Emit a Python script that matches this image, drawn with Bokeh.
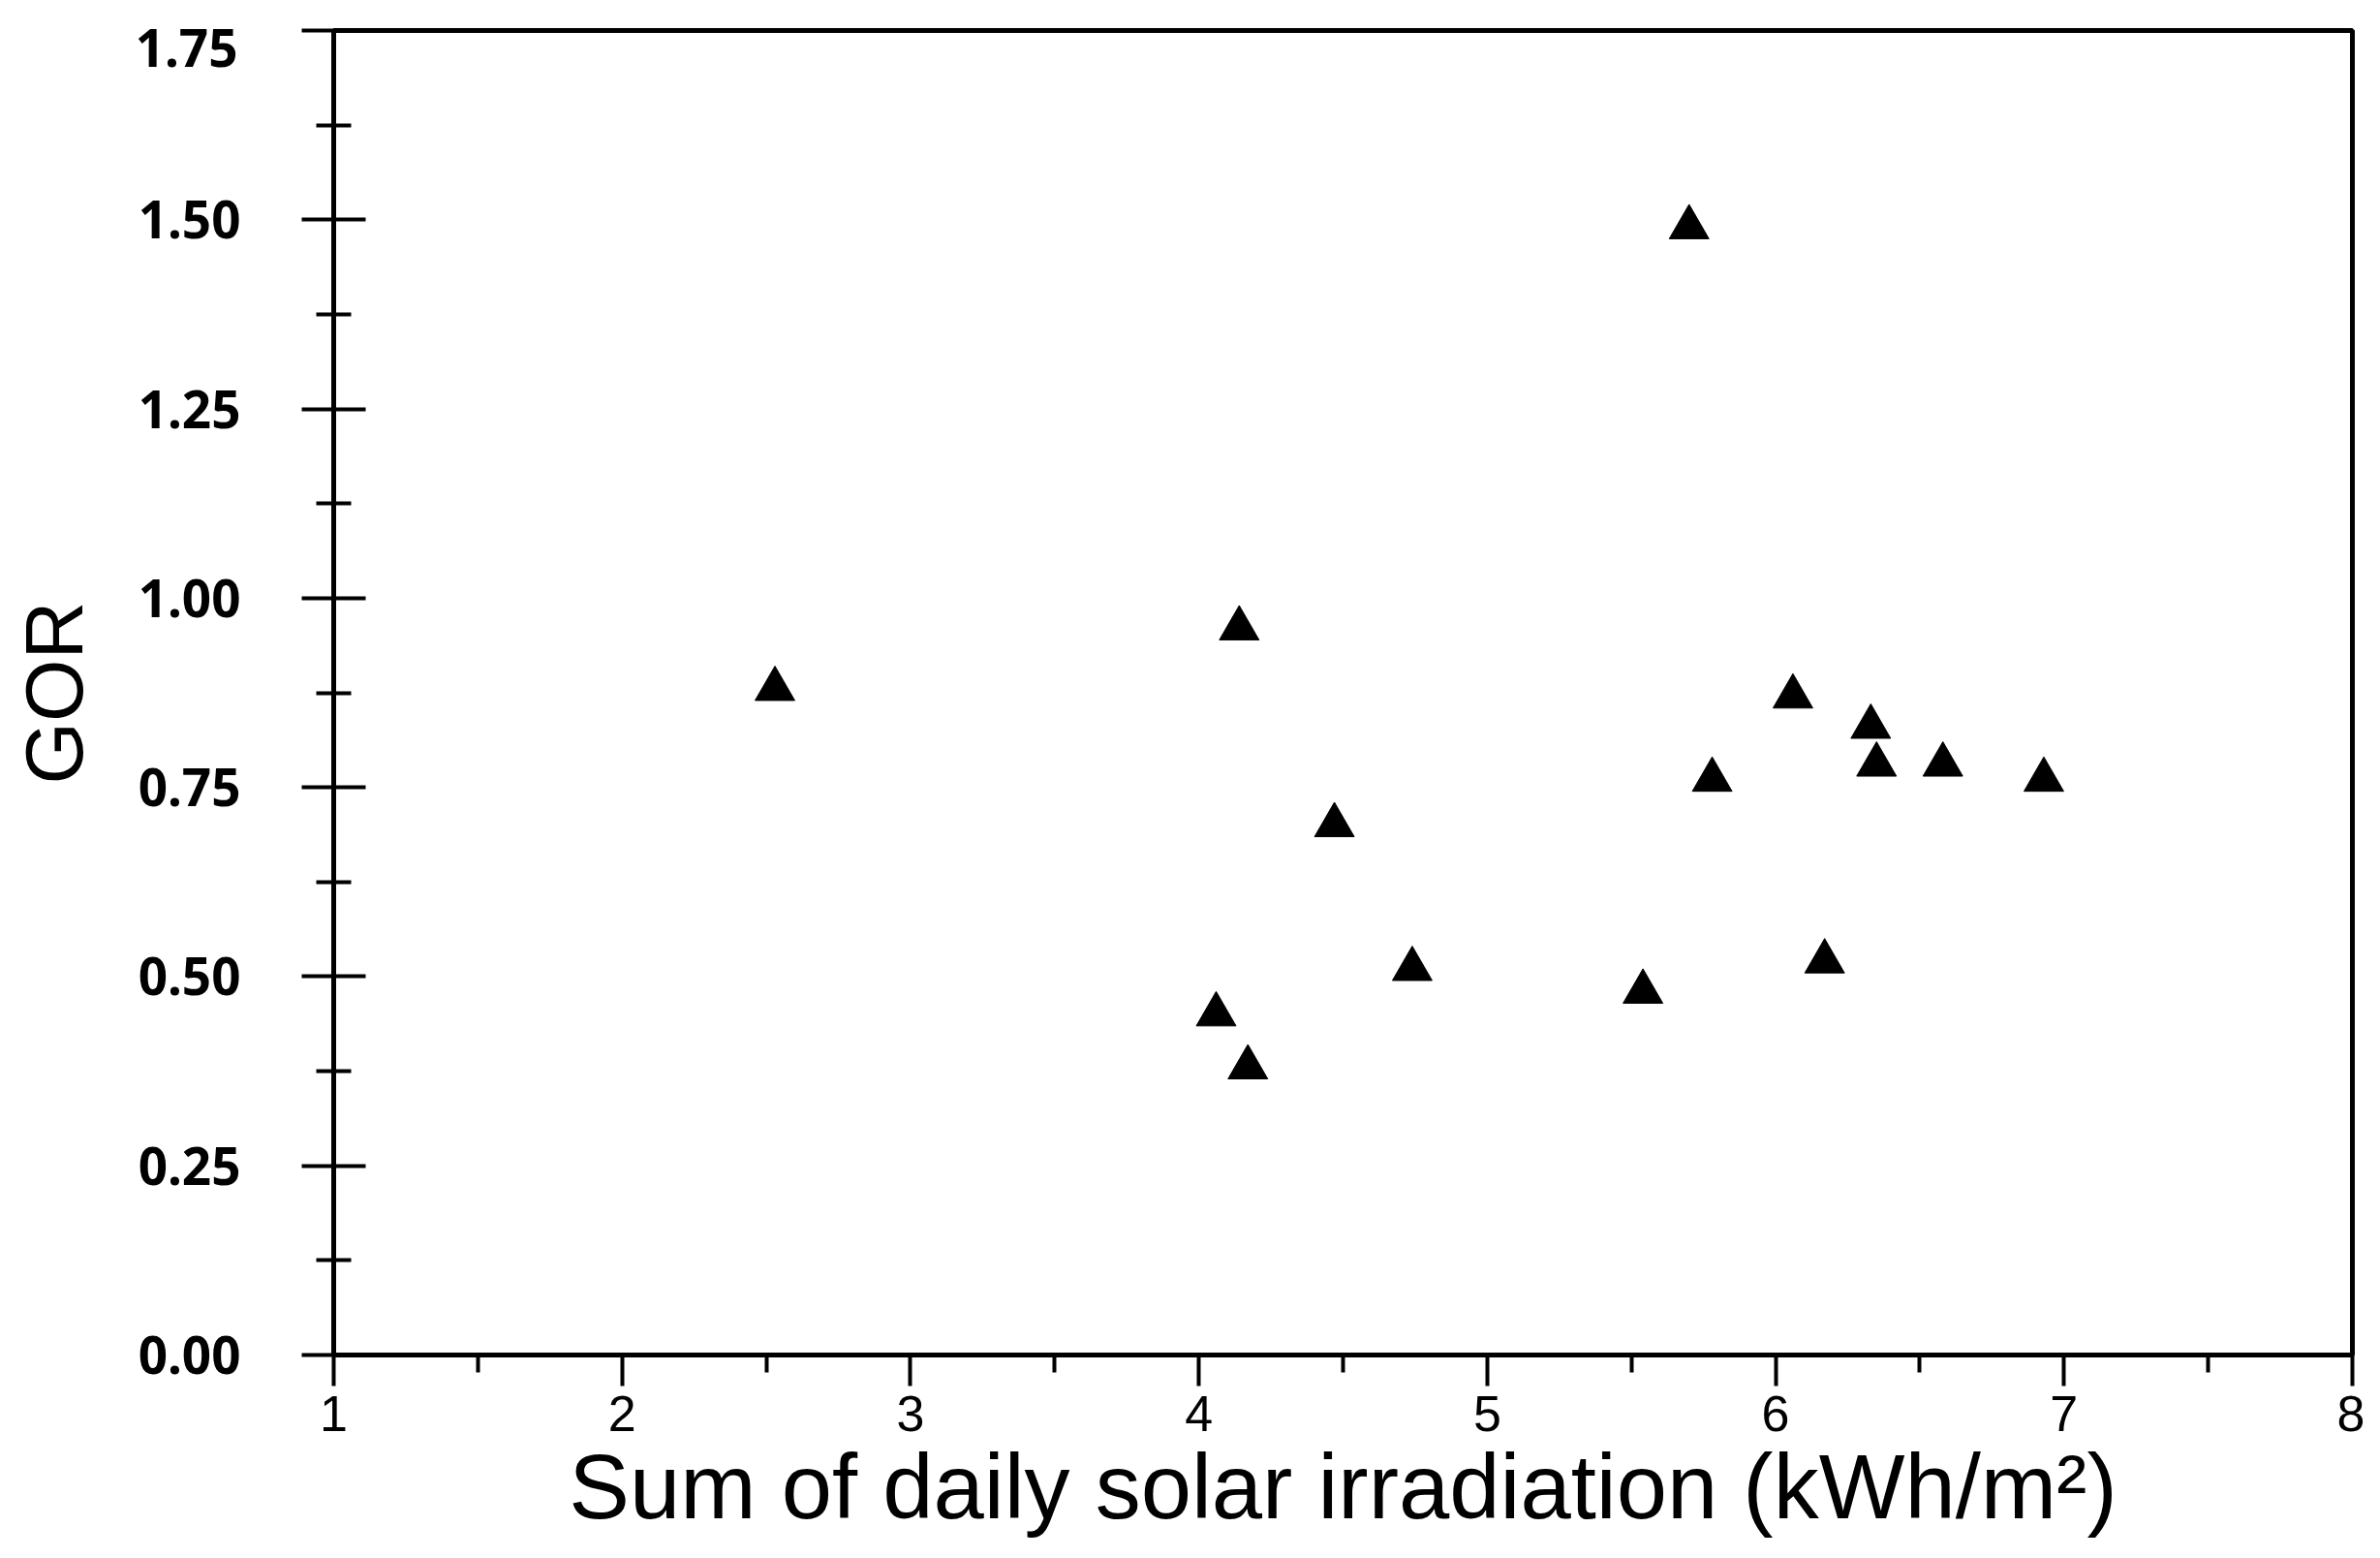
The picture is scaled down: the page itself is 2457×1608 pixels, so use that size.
from bokeh.plotting import figure
from bokeh.models import FixedTicker, Range1d, LinearAxis
from bokeh.embed import file_html
from bokeh.resources import INLINE

# Data
irradiation = [2.53, 4.06, 4.14, 4.17, 4.47, 4.74, 5.54, 5.70, 5.78, 6.06, 6.17, 6.33, 6.35, 6.58, 6.93]
gor = [0.88, 0.45, 0.96, 0.38, 0.70, 0.51, 0.48, 1.49, 0.76, 0.87, 0.52, 0.83, 0.78, 0.78, 0.76]

x_ticks = [1, 2, 3, 4, 5, 6, 7, 8]
x_minor = [1.5, 2.5, 3.5, 4.5, 5.5, 6.5, 7.5]
y_ticks = [0.0, 0.25, 0.5, 0.75, 1.0, 1.25, 1.5, 1.75]
y_minor = [0.125, 0.375, 0.625, 0.875, 1.125, 1.375, 1.625]
y_labels = ["0.00", "0.25", "0.50", "0.75", "1.00", "1.25", "1.50", "1.75"]

# In the reference the top tick label sits a little below its tick (label placement only)
TOP_LABEL_DROP = 0.023
top_label_pos = round(y_ticks[-1] - TOP_LABEL_DROP, 3)

W, H = 2441, 1592
p = figure(width=W, height=H, output_backend="svg", toolbar_location=None,
           x_range=Range1d(1, 8), y_range=Range1d(0, 1.75),
           min_border_left=344, min_border_right=13, min_border_top=31, min_border_bottom=194)

p.triangle(irradiation, gor, size=41, fill_color="black", line_color="black", line_width=1)

p.xgrid.visible = False
p.ygrid.visible = False
p.background_fill_color = "white"
p.border_fill_color = "white"
p.outline_line_color = "black"
p.outline_line_width = 5
p.outline_line_alpha = 1.0

# x axis
xa = p.xaxis[0]
xa.ticker = FixedTicker(ticks=x_ticks, minor_ticks=x_minor)
xa.axis_line_width = 5
xa.major_tick_line_width = 4
xa.minor_tick_line_width = 4
xa.major_tick_in = 0
xa.major_tick_out = 32
xa.minor_tick_in = 0
xa.minor_tick_out = 18
xa.major_label_standoff = 10
xa.major_label_text_font = "Liberation Sans"
xa.major_label_text_font_size = "52px"
xa.major_label_text_color = "black"
xa.axis_label = "Sum of daily solar irradiation (kWh/m\u00b2)"
xa.axis_label_text_font = "Liberation Sans"
xa.axis_label_text_font_size = "94px"
xa.axis_label_text_font_style = "normal"
xa.axis_label_text_color = "black"
xa.axis_label_standoff = 2

LABEL_PX = 53
LABEL_W = 106   # approx. width of a "0.00" label at LABEL_PX

# y axis (ticks and all labels except the top one)
ya = p.yaxis[0]
ya.ticker = FixedTicker(ticks=y_ticks, minor_ticks=y_minor)
overrides = {t: l for t, l in zip(y_ticks, y_labels)}
overrides[y_ticks[-1]] = ""
ya.major_label_overrides = overrides
ya.axis_line_width = 5
ya.major_tick_line_width = 4
ya.minor_tick_line_width = 4
ya.major_tick_in = 33
ya.major_tick_out = 33
ya.minor_tick_in = 18
ya.minor_tick_out = 18
ya.major_label_standoff = 63
ya.major_label_text_font = "Noto Sans"
ya.major_label_text_font_style = "bold"
ya.major_label_text_font_size = f"{LABEL_PX}px"
ya.major_label_text_color = "black"

# outer y axis: carries the top tick label (just below its tick, as in the reference) and the title
yb = LinearAxis(ticker=FixedTicker(ticks=[top_label_pos]),
                major_label_overrides={top_label_pos: y_labels[-1]})
yb.axis_line_color = None
yb.major_tick_line_color = None
yb.minor_tick_line_color = None
yb.major_tick_in = 0
yb.major_tick_out = 0
yb.minor_tick_in = 0
yb.minor_tick_out = 0
yb.major_label_standoff = -LABEL_W
yb.major_label_text_font = "Noto Sans"
yb.major_label_text_font_style = "bold"
yb.major_label_text_font_size = f"{LABEL_PX}px"
yb.major_label_text_color = "black"
yb.axis_label = "GOR"
yb.axis_label_text_font = "Liberation Sans"
yb.axis_label_text_font_size = "83px"
yb.axis_label_text_font_style = "normal"
yb.axis_label_text_color = "black"
yb.axis_label_standoff = 34
p.add_layout(yb, "left")

open("out.html", "w").write(file_html(p, INLINE))
